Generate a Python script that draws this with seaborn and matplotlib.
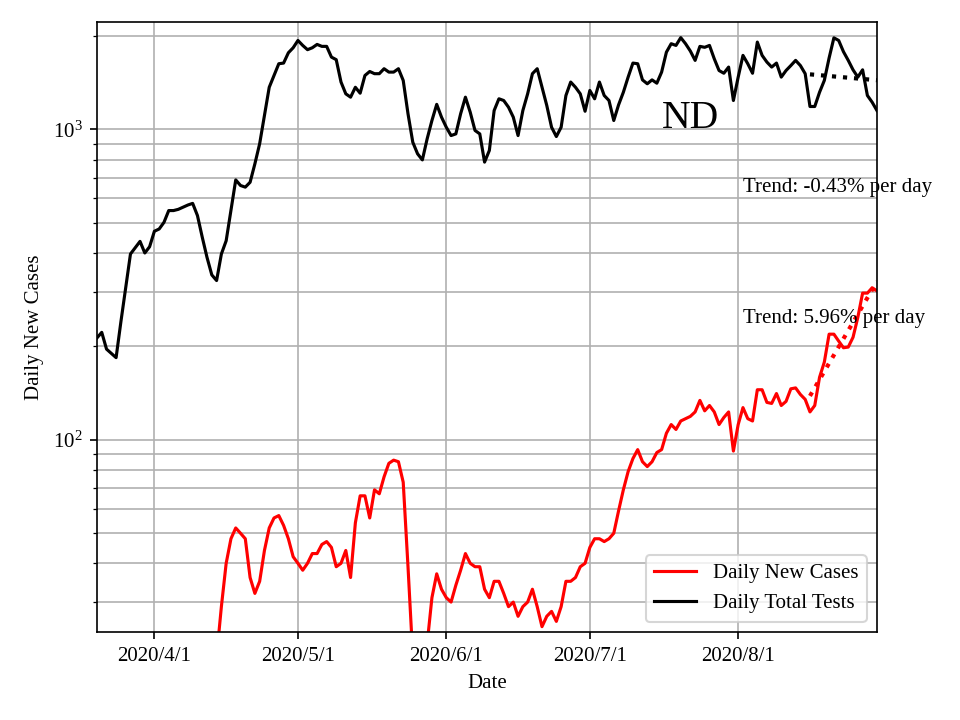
import numpy as np
import pandas as pd
import matplotlib
matplotlib.use("Agg")
import matplotlib.pyplot as plt
import matplotlib.dates as mdates
import matplotlib.ticker as mticker
import seaborn as sns

plt.rcParams["font.family"] = ["Liberation Serif", "DejaVu Serif"]
plt.rcParams["mathtext.fontset"] = "stix"

state = "ND"
start_date = "2020-03-20"
end_date = "2020-08-30"

# daily new cases (red)
daily_cases = [
    3, 4, 4, 5, 5, 6, 7, 7, 8, 9, 9, 10, 11, 11, 12, 13, 13, 14, 15, 15,
    16, 17, 17, 18, 19, 20, 29, 40, 48, 52, 50, 48, 36, 32, 35, 44, 52, 56, 57, 53,
    48, 42, 40, 38, 40, 43, 43, 46, 47, 45, 39, 40, 44, 36, 54, 66, 66, 56, 69, 67,
    76, 84, 86, 85, 73, 39, 20, 16, 17, 22, 31, 37, 33, 31, 30, 34, 38, 43, 40, 39,
    39, 33, 31, 35, 35, 32, 29, 30, 27, 29, 30, 33, 29, 25, 27, 28, 26, 29, 35, 35,
    36, 39, 40, 45, 48, 48, 47, 48, 50, 59, 69, 79, 87, 93, 85, 82, 85, 91, 93, 105,
    112, 108, 115, 117, 119, 123, 134, 124, 129, 123, 112, 118, 123, 92, 112, 127, 117, 115, 145, 145,
    132, 131, 141, 129, 133, 146, 147, 140, 135, 123, 129, 159, 178, 219, 219, 208, 198, 199, 214, 248,
    297, 297, 309, 302,
]

# daily total tests (black)
daily_tests = [
    213, 222, 196, 190, 184, 240, 309, 397, 416, 436, 400, 419, 470, 478, 502, 548, 548, 553, 562, 571,
    578, 528, 450, 387, 340, 326, 397, 438, 548, 688, 660, 652, 676, 775, 900, 1110, 1368, 1493, 1629, 1637,
    1767, 1834, 1936, 1866, 1808, 1834, 1880, 1853, 1853, 1711, 1679, 1422, 1303, 1271, 1368, 1309, 1493, 1538, 1513, 1513,
    1570, 1531, 1531, 1570, 1439, 1124, 910, 835, 798, 933, 1069, 1205, 1096, 1017, 956, 968, 1124, 1271, 1137, 993,
    968, 785, 856, 1151, 1256, 1240, 1180, 1096, 956, 1151, 1303, 1513, 1570, 1368, 1195, 1017, 949, 1017, 1287, 1422,
    1368, 1303, 1145, 1336, 1256, 1422, 1287, 1240, 1069, 1200, 1318, 1475, 1637, 1629, 1445, 1404, 1445, 1410, 1531, 1775,
    1890, 1866, 1977, 1890, 1790, 1670, 1853, 1840, 1866, 1690, 1549, 1518, 1589, 1240, 1475, 1733, 1629, 1518, 1913, 1733,
    1649, 1589, 1637, 1475, 1549, 1607, 1670, 1607, 1513, 1186, 1186, 1318, 1439, 1700, 1974, 1936, 1781, 1670, 1557, 1475,
    1557, 1287, 1224, 1151,
]

trend_labels = ["Trend: -0.43% per day", "Trend: 5.96% per day"]
trend_days = 15

dates = pd.date_range(start_date, end_date, freq="D")
df = pd.DataFrame({
    "Date": dates,
    "Daily New Cases": daily_cases,
    "Daily Total Tests": daily_tests,
})

fig, ax = plt.subplots(figsize=(6.4, 4.8), dpi=150)
fig.subplots_adjust(left=0.101, right=0.9135, bottom=0.122, top=0.969)

sns.lineplot(data=df, x="Date", y="Daily New Cases", color="red", label="Daily New Cases", ax=ax)
sns.lineplot(data=df, x="Date", y="Daily Total Tests", color="black", label="Daily Total Tests", ax=ax)

# exponential fit over the last couple of weeks
tail = df.tail(trend_days)
t = np.arange(trend_days)
for col, color in [("Daily Total Tests", "black"), ("Daily New Cases", "red")]:
    slope, icpt = np.polyfit(t, np.log(tail[col].values), 1)
    ax.plot(tail["Date"], np.exp(icpt + slope * t), ":", color=color, lw=2)

ax.set_yscale("log")
ax.set_ylim(24, 2215)
ax.set_xlim(dates[0], dates[-1])

ax.xaxis.set_major_locator(mdates.MonthLocator())
ax.xaxis.set_major_formatter(mticker.FuncFormatter(
    lambda v, pos: "{0.year}/{0.month}/{0.day}".format(mdates.num2date(v))))

ax.grid(True, which="both", axis="y")
ax.grid(True, which="major", axis="x")

ax.set_xlabel("Date")
ax.set_ylabel("Daily New Cases")
ax.legend(loc="lower right")

ax.text(0.724, 0.826, state, transform=ax.transAxes, fontsize=19)
ax.text(0.828, 0.722, trend_labels[0], transform=ax.transAxes)
ax.text(0.828, 0.507, trend_labels[1], transform=ax.transAxes)

fig.savefig("out.png", dpi=150)
plt.close()
